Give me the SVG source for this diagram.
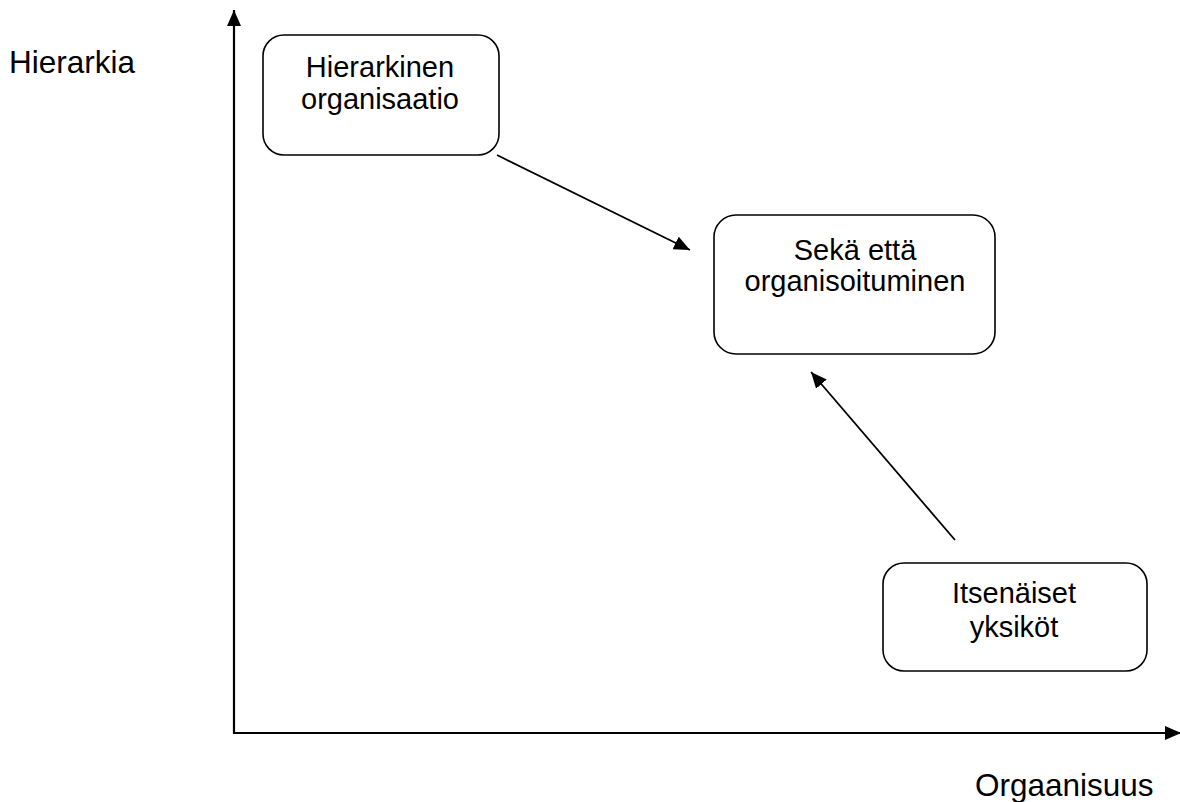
<svg xmlns="http://www.w3.org/2000/svg" width="1180" height="802" viewBox="0 0 1180 802">
<style>
.box{fill:#fff;stroke:#000;stroke-width:1.6}
.t{font-family:"Liberation Sans",Arial,sans-serif;font-size:29px;fill:#000;text-anchor:middle}
.lbl{font-family:"Liberation Sans",Arial,sans-serif;font-size:31.5px;fill:#000}
.ln{stroke:#000;stroke-width:1.8;fill:none}
.ax{stroke:#000;stroke-width:2.2;fill:none}
</style>
<defs>
<marker id="ah" markerUnits="userSpaceOnUse" markerWidth="16" markerHeight="14" refX="16" refY="7" orient="auto">
<path d="M0,0 L16,7 L0,14 z" fill="#000"/>
</marker>
</defs>
<rect width="1180" height="802" fill="#fff"/>
<g id="axes">
<line class="ax" x1="234" y1="734" x2="234" y2="10" marker-end="url(#ah)"/>
<line class="ax" x1="233" y1="733" x2="1181" y2="733" marker-end="url(#ah)"/>
</g>
<text class="lbl" x="9" y="73">Hierarkia</text>
<text class="lbl" x="975" y="796">Orgaanisuus</text>
<g id="node-hierarkinen">
<rect class="box" x="263" y="35" width="236" height="120" rx="21"/>
<text class="t" x="380" y="77">Hierarkinen</text>
<text class="t" x="380" y="109">organisaatio</text>
</g>
<g id="node-seka">
<rect class="box" x="714" y="215" width="281" height="139" rx="22"/>
<text class="t" x="855" y="260">Sekä että</text>
<text class="t" x="855" y="291">organisoituminen</text>
</g>
<g id="node-itsenaiset">
<rect class="box" x="883" y="563" width="264" height="108" rx="21"/>
<text class="t" x="1014" y="603">Itsenäiset</text>
<text class="t" x="1014" y="637">yksiköt</text>
</g>
<g id="connectors">
<line class="ln" x1="497" y1="155" x2="690" y2="250" marker-end="url(#ah)"/>
<line class="ln" x1="955" y1="540" x2="811" y2="372" marker-end="url(#ah)"/>
</g>
</svg>
